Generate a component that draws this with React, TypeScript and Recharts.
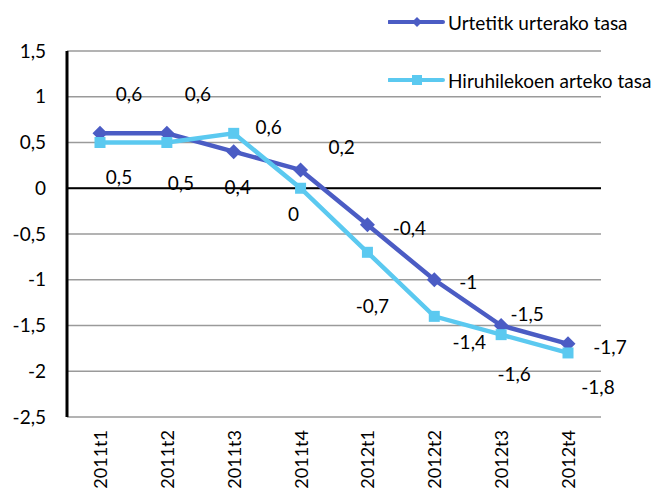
import {
  LabelList,
  Line,
  LineChart,
  CartesianGrid,
  ReferenceLine,
  XAxis,
  YAxis,
} from 'recharts';

const quarters = ['2011t1', '2011t2', '2011t3', '2011t4', '2012t1', '2012t2', '2012t3', '2012t4'];
const urtetik = [0.6, 0.6, 0.4, 0.2, -0.4, -1, -1.5, -1.7];
const hiruhilekoen = [0.5, 0.5, 0.6, 0, -0.7, -1.4, -1.6, -1.8];
const yTicks = [-2.5, -2, -1.5, -1, -0.5, 0, 0.5, 1, 1.5];

const seriesNames = ['Urtetitk urterako tasa', 'Hiruhilekoen arteko tasa'];

// label nudges (dx, dy) as in the original sheet
const darkOffsets = [[29, -40], [31, -40], [4, 35], [41, -23], [42, 3], [34, 2], [26, -12], [42, 3]];
const lightOffsets = [[19, 34], [14, 40], [35, -7], [-7, 25], [5, 53], [35, 25], [13, 39], [30, 34]];

const DARK = '#4B5CC4';
const LIGHT = '#5BC9F0';
const FONT = 'Lato, "Open Sans", sans-serif';
const FS = 19;

const data = quarters.map((q, i) => ({
  name: q,
  urtetik: urtetik[i],
  hiru: hiruhilekoen[i],
}));

const fmt = (v: number) => String(v).replace('.', ',');

function makeLabel(offsets: number[][]) {
  return (props: any) => {
    const { x, y, value, index } = props;
    const [dx, dy] = offsets[index] || [0, 0];
    return (
      <text
        x={x + dx}
        y={y + dy}
        textAnchor="middle"
        dominantBaseline="central"
        fontSize={FS}
        fontFamily={FONT}
        fill="#000"
      >
        {fmt(value)}
      </text>
    );
  };
}

function Diamond(props: any) {
  const { cx, cy } = props;
  if (cx == null || cy == null) return null;
  const r = 7.5;
  return <polygon points={`${cx},${cy - r} ${cx + r},${cy} ${cx},${cy + r} ${cx - r},${cy}`} fill={DARK} />;
}

function Square(props: any) {
  const { cx, cy } = props;
  if (cx == null || cy == null) return null;
  const s = 11;
  return <rect x={cx - s / 2} y={cy - s / 2} width={s} height={s} fill={LIGHT} />;
}

function XTick(props: any) {
  const { x, payload } = props;
  return (
    <text
      transform={`translate(${x + 7}, 430) rotate(-90)`}
      textAnchor="end"
      fontSize={18}
      fontFamily={FONT}
      fill="#000"
    >
      {payload.value}
    </text>
  );
}

function LegendBox() {
  const entries = [
    { name: seriesNames[0], color: DARK, marker: 'diamond' },
    { name: seriesNames[1], color: LIGHT, marker: 'square' },
  ];
  return (
    <div style={{ position: 'absolute', left: 388, top: 10, fontFamily: FONT, fontSize: FS, color: '#000' }}>
      {entries.map((e, i) => (
        <div key={i} style={{ display: 'flex', alignItems: 'center', height: 24, marginBottom: i === 0 ? 34 : 0 }}>
          <svg width={60} height={16}>
            <line x1={1} y1={8} x2={55} y2={8} stroke={e.color} strokeWidth={4} strokeLinecap="round" />
            {e.marker === 'diamond' ? (
              <polygon points="29,3 34,8 29,13 24,8" fill={e.color} />
            ) : (
              <rect x={24} y={3} width={10} height={10} fill={e.color} />
            )}
          </svg>
          <span style={{ whiteSpace: 'nowrap' }}>{e.name}</span>
        </div>
      ))}
    </div>
  );
}

export default function App() {
  return (
    <div style={{ position: 'absolute', left: 0, top: 0, width: 662, height: 491, background: '#fff' }}>
      <LineChart width={662} height={491} data={data} margin={{ top: 51, right: 61, bottom: 0, left: 0 }}>
        <CartesianGrid horizontal vertical={false} stroke="#9a9a9a" strokeWidth={1.5} />
        <XAxis
          dataKey="name"
          axisLine={false}
          tickLine={false}
          height={74}
          interval={0}
          padding={{ left: 33, right: 33 }}
          tick={<XTick />}
        />
        <YAxis
          domain={[-2.5, 1.5]}
          ticks={yTicks}
          width={67}
          axisLine={{ stroke: '#000', strokeWidth: 3 }}
          tickLine={false}
          tickSize={0}
          tickMargin={21}
          tickFormatter={fmt}
          tick={{ fontSize: FS, fontFamily: FONT, fill: '#000' }}
        />
        <ReferenceLine y={0} stroke="#000" strokeWidth={2} />
        <Line
          dataKey="urtetik"
          name={seriesNames[0]}
          stroke={DARK}
          strokeWidth={4.5}
          dot={<Diamond />}
          activeDot={false}
          isAnimationActive={false}
        >
          <LabelList dataKey="urtetik" content={makeLabel(darkOffsets)} />
        </Line>
        <Line
          dataKey="hiru"
          name={seriesNames[1]}
          stroke={LIGHT}
          strokeWidth={4.5}
          dot={<Square />}
          activeDot={false}
          isAnimationActive={false}
        >
          <LabelList dataKey="hiru" content={makeLabel(lightOffsets)} />
        </Line>
      </LineChart>
      <LegendBox />
    </div>
  );
}
